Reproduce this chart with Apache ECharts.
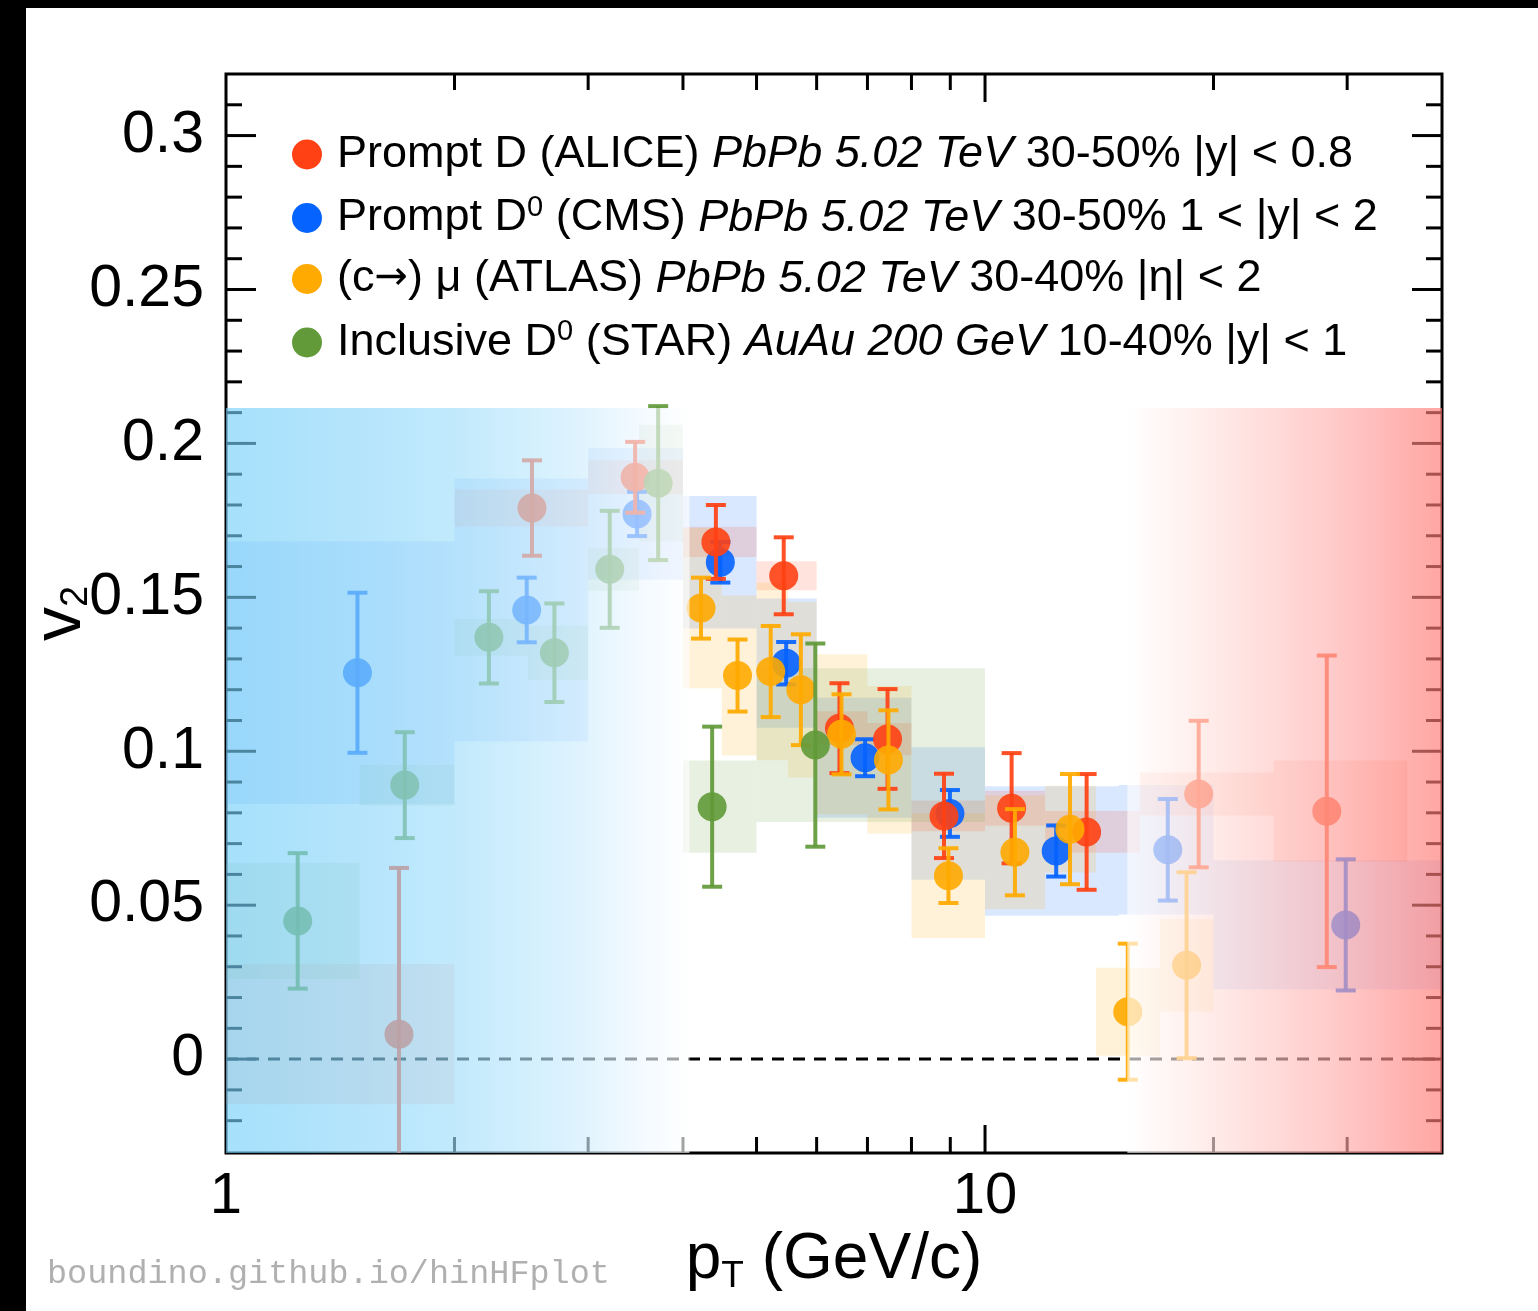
<!DOCTYPE html>
<html>
<head>
<meta charset="utf-8">
<script src="https://cdn.jsdelivr.net/npm/echarts@6/dist/echarts.min.js"></script>
<style>
  body { margin: 0; background: #000; }
  #panel { position: absolute; left: 26px; top: 8px; right: 0; bottom: 0; background: #fff; }
  #main { position: absolute; left: 0; top: 0; width: 1538px; height: 1311px; }
</style>
</head>
<body>
<div id="panel"></div>
<div id="main"></div>
<script>
var FONT = "'Liberation Sans', Arial, Helvetica, sans-serif";

// axis range
var xMin = 1, xMax = 40, yMin = -0.0305, yMax = 0.32;

// tick marks
var xMajorTicks = [10];
var xMinorTicks = [2, 3, 4, 5, 6, 7, 8, 9, 20, 30];
var yMajorTicks = [0, 0.05, 0.1, 0.15, 0.2, 0.25, 0.3];
var yMinorTicks = [-0.02, -0.01, 0.01, 0.02, 0.03, 0.04, 0.06, 0.07, 0.08, 0.09,
  0.11, 0.12, 0.13, 0.14, 0.16, 0.17, 0.18, 0.19, 0.21, 0.22, 0.23, 0.24,
  0.26, 0.27, 0.28, 0.29, 0.31];

// Prompt D (ALICE) PbPb 5.02 TeV 30-50%
var aliceX    = [1.69, 2.53, 3.46, 4.42, 5.43, 6.43, 7.44, 8.83, 10.84, 13.61, 19.12, 28.2];
var aliceV2   = [0.0081, 0.179, 0.189, 0.168, 0.157, 0.1075, 0.104, 0.079, 0.0815, 0.0738, 0.0861, 0.0805];
var aliceStat = [0.054, 0.0155, 0.0115, 0.012, 0.0125, 0.0146, 0.0162, 0.0137, 0.0179, 0.0188, 0.0238, 0.0506];
var aliceLo   = [1, 2, 3, 4, 5, 6, 7, 8, 10, 12, 16, 24];
var aliceHi   = [2, 3, 4, 5, 6, 7, 8, 10, 12, 16, 24, 36];
var aliceSys  = [0.0228, 0.006, 0.0055, 0.0049, 0.0047, 0.0055, 0.0052, 0.005, 0.0057, 0.0068, 0.007, 0.0165];

// Prompt D0 (CMS) PbPb 5.02 TeV 30-50%
var cmsX    = [1.49, 2.49, 3.48, 4.48, 5.47, 6.95, 8.99, 12.41, 17.41, 29.87];
var cmsV2   = [0.1255, 0.1459, 0.1771, 0.1614, 0.1286, 0.0979, 0.0798, 0.0676, 0.068, 0.0436];
var cmsStat = [0.026, 0.0105, 0.0072, 0.0066, 0.0069, 0.006, 0.0076, 0.0083, 0.0165, 0.0213];
var cmsLo   = [1, 2, 3, 4, 5, 6, 8, 10, 15, 20];
var cmsHi   = [2, 3, 4, 5, 6, 8, 10, 15, 20, 40];
var cmsSys  = [0.0426, 0.0427, 0.0214, 0.0215, 0.021, 0.0195, 0.0215, 0.021, 0.021, 0.021];

// (c->) mu (ATLAS) PbPb 5.02 TeV 30-40%
var atlasX    = [4.225, 4.72, 5.22, 5.72, 6.47, 7.46, 8.95, 10.95, 12.94, 15.42, 18.43];
var atlasV2   = [0.1465, 0.1246, 0.1259, 0.12, 0.1055, 0.0972, 0.0596, 0.0672, 0.0747, 0.0154, 0.0305];
var atlasStat = [0.0099, 0.0117, 0.0148, 0.018, 0.013, 0.0161, 0.0089, 0.014, 0.0179, 0.0221, 0.0302];
var atlasLo   = [4, 4.5, 5, 5.5, 6, 7, 8, 10, 12, 14, 17];
var atlasHi   = [4.5, 5, 5.5, 6, 7, 8, 10, 12, 14, 17, 20];
var atlasSys  = [0.026, 0.026, 0.0288, 0.0285, 0.026, 0.024, 0.0203, 0.0185, 0.0141, 0.0143, 0.015];

// Inclusive D0 (STAR) AuAu 200 GeV 10-40%
var starX    = [1.243, 1.72, 2.22, 2.708, 3.203, 3.71, 4.37, 5.976];
var starV2   = [0.0449, 0.089, 0.137, 0.132, 0.1591, 0.1871, 0.082, 0.102];
var starStat = [0.022, 0.0172, 0.015, 0.016, 0.019, 0.025, 0.026, 0.033];
var starLo   = [1, 1.5, 2, 2.5, 3, 3.5, 4, 5];
var starHi   = [1.5, 2, 2.5, 3, 3.5, 4, 5, 10];
var starSys  = [0.0189, 0.0066, 0.006, 0.0088, 0.007, 0.019, 0.015, 0.025];

// shaded pT bands (low pT blue, high pT red)
var bandLo = [1, 15.4];
var bandHi = [4.08, 40];
var bandTop = 0.2115;

var experiments = [
  { name: 'CMS',   color: '#0563ff', x: cmsX,   v: cmsV2,   s: cmsStat,   lo: cmsLo,   hi: cmsHi,   sys: cmsSys },
  { name: 'ALICE', color: '#ff4114', x: aliceX, v: aliceV2, s: aliceStat, lo: aliceLo, hi: aliceHi, sys: aliceSys },
  { name: 'ATLAS', color: '#ffaa00', x: atlasX, v: atlasV2, s: atlasStat, lo: atlasLo, hi: atlasHi, sys: atlasSys },
  { name: 'STAR',  color: '#629a3a', x: starX,  v: starV2,  s: starStat,  lo: starLo,  hi: starHi,  sys: starSys }
];

var legendText = {
  ALICE: '{f|Prompt D (ALICE) }{i|PbPb 5.02 TeV}{n| 30-50% |y| < 0.8}',
  CMS:   '{f|Prompt D}{s|0}{n| (CMS) }{i|PbPb 5.02 TeV}{n| 30-50% 1 < |y| < 2}',
  ATLAS: '{f|(c}{a|→}{n|) μ (ATLAS) }{i|PbPb 5.02 TeV}{n| 30-40% |η| < 2}',
  STAR:  '{f|Inclusive D}{s|0}{n| (STAR) }{i|AuAu 200 GeV}{n| 10-40% |y| < 1}'
};

function clampY(v) { return Math.max(yMin, Math.min(yMax, v)); }

function renderBox(params, api) {
  var a = api.coord([api.value(0), clampY(api.value(2) + api.value(3))]);
  var b = api.coord([api.value(1), clampY(api.value(2) - api.value(3))]);
  return {
    type: 'rect',
    shape: { x: a[0], y: a[1], width: b[0] - a[0], height: b[1] - a[1] },
    style: { fill: api.visual('color'), opacity: 0.15 }
  };
}

function renderPoint(params, api) {
  var x = api.value(0), y = api.value(1), e = api.value(2);
  var c = api.coord([x, y]);
  var t = api.coord([x, clampY(y + e)]);
  var b = api.coord([x, clampY(y - e)]);
  var col = api.visual('color');
  var ls = { stroke: col, lineWidth: 4, opacity: 0.92 };
  var kids = [
    { type: 'line', shape: { x1: c[0], y1: t[1], x2: c[0], y2: b[1] }, style: ls }
  ];
  if (y + e < yMax) kids.push({ type: 'line', shape: { x1: c[0] - 10, y1: t[1], x2: c[0] + 10, y2: t[1] }, style: ls });
  if (y - e > yMin) kids.push({ type: 'line', shape: { x1: c[0] - 10, y1: b[1], x2: c[0] + 10, y2: b[1] }, style: ls });
  kids.push({ type: 'circle', shape: { cx: c[0], cy: c[1], r: 14.5 }, style: { fill: col, opacity: 0.9 } });
  return { type: 'group', children: kids };
}

function renderXTick(params, api) {
  var v = api.value(0), len = api.value(2);
  var b = api.coord([v, yMin]), t = api.coord([v, yMax]);
  var st = { stroke: '#000', lineWidth: 3 };
  return { type: 'group', children: [
    { type: 'line', shape: { x1: b[0], y1: b[1], x2: b[0], y2: b[1] - len }, style: st },
    { type: 'line', shape: { x1: t[0], y1: t[1], x2: t[0], y2: t[1] + len }, style: st }
  ] };
}

function renderYTick(params, api) {
  var v = api.value(1), len = api.value(2);
  var l = api.coord([xMin, v]), r = api.coord([xMax, v]);
  var st = { stroke: '#000', lineWidth: 3 };
  return { type: 'group', children: [
    { type: 'line', shape: { x1: l[0], y1: l[1], x2: l[0] + len, y2: l[1] }, style: st },
    { type: 'line', shape: { x1: r[0], y1: r[1], x2: r[0] - len, y2: r[1] }, style: st }
  ] };
}

// translucent veil: fades from blue to white (low pT), white to red (high pT)
var blueStops = [
  { offset: 0, color: 'rgba(116,207,249,0.64)' },
  { offset: 0.3, color: 'rgba(140,214,250,0.64)' },
  { offset: 0.5, color: 'rgba(160,222,251,0.64)' },
  { offset: 0.75, color: 'rgba(202,236,253,0.64)' },
  { offset: 0.9, color: 'rgba(238,247,255,0.64)' },
  { offset: 1, color: 'rgba(255,255,255,0.64)' }
];
var redStops = [
  { offset: 0, color: 'rgba(255,255,255,0.64)' },
  { offset: 0.23, color: 'rgba(255,229,225,0.64)' },
  { offset: 0.63, color: 'rgba(255,177,176,0.64)' },
  { offset: 1, color: 'rgba(255,120,115,0.66)' }
];

function renderBand(params, api) {
  var a = api.coord([api.value(0), bandTop]);
  var b = api.coord([api.value(1), yMin]);
  return {
    type: 'rect',
    shape: { x: a[0], y: a[1], width: b[0] - a[0], height: b[1] - a[1] },
    style: { fill: { type: 'linear', x: 0, y: 0, x2: 1, y2: 0,
      colorStops: api.value(2) === 0 ? blueStops : redStops } }
  };
}

var series = [];
experiments.forEach(function (ex) {
  series.push({
    name: ex.name + ' syst', type: 'custom', z: 2, silent: true, clip: true,
    itemStyle: { color: ex.color },
    encode: { x: [0, 1], y: 2 },
    renderItem: renderBox,
    data: ex.lo.map(function (lo, i) { return [lo, ex.hi[i], ex.v[i], ex.sys[i]]; })
  });
});
series.push({
  name: 'zero', type: 'line', z: 3, silent: true, symbol: 'none',
  lineStyle: { color: '#000', width: 3, type: [12, 9] },
  data: [[xMin, 0], [xMax, 0]]
});
experiments.forEach(function (ex) {
  series.push({
    name: ex.name, type: 'custom', z: 4, silent: true, clip: true,
    itemStyle: { color: ex.color },
    encode: { x: 0, y: 1 },
    renderItem: renderPoint,
    data: ex.x.map(function (x, i) { return [x, ex.v[i], ex.s[i]]; })
  });
});
series.push({
  name: 'xticks', type: 'custom', z: 5, silent: true,
  renderItem: renderXTick, encode: { x: 0, y: 1 },
  data: xMajorTicks.map(function (v) { return [v, 0, 28]; })
    .concat(xMinorTicks.map(function (v) { return [v, 0, 16]; }))
});
series.push({
  name: 'yticks', type: 'custom', z: 5, silent: true,
  renderItem: renderYTick, encode: { x: 0, y: 1 },
  data: yMajorTicks.map(function (v) { return [xMin, v, 30]; })
    .concat(yMinorTicks.map(function (v) { return [xMin, v, 16]; }))
});
series.push({
  name: 'bands', type: 'custom', z: 10, silent: true,
  renderItem: renderBand, encode: { x: [0, 1], y: 2 },
  data: bandLo.map(function (lo, i) { return [lo, bandHi[i], i]; })
});

var myChart = echarts.init(document.getElementById('main'));
var option = {
  animation: false,
  grid: { left: 226, right: 96, top: 74, bottom: 158, outerBoundsMode: 'none',
    show: true, borderColor: '#000', borderWidth: 3, backgroundColor: 'transparent' },
  legend: {
    orient: 'vertical', left: 287, top: 127, itemWidth: 30, itemHeight: 30, itemGap: 16,
    icon: 'circle', selectedMode: false,
    data: ['ALICE', 'CMS', 'ATLAS', 'STAR'],
    formatter: function (name) { return legendText[name]; },
    textStyle: {
      color: '#000', fontFamily: FONT, fontSize: 45,
      rich: {
        f: { fontSize: 45, fontFamily: FONT, color: '#000', lineHeight: 50, padding: [0, 0, 0, 10] },
        n: { fontSize: 45, fontFamily: FONT, color: '#000', lineHeight: 50 },
        a: { fontSize: 40, fontFamily: "'DejaVu Sans', sans-serif", color: '#000', lineHeight: 50 },
        i: { fontSize: 45, fontFamily: FONT, color: '#000', lineHeight: 50, fontStyle: 'italic' },
        s: { fontSize: 29, fontFamily: FONT, color: '#000', lineHeight: 14, verticalAlign: 'top' }
      }
    }
  },
  xAxis: {
    type: 'log', logBase: 10, min: xMin, max: xMax,
    axisLine: { show: false }, axisTick: { show: false }, splitLine: { show: false },
    axisLabel: { color: '#000', fontFamily: FONT, fontSize: 58, margin: 15, showMaxLabel: false },
    name: '{p|p}{t|T}{p| (GeV/c)}', nameLocation: 'middle', nameGap: 72, nameMoveOverlap: false,
    nameTextStyle: {
      color: '#000', fontFamily: FONT, fontSize: 64,
      rich: {
        p: { fontSize: 64, fontFamily: FONT, color: '#000', lineHeight: 70 },
        t: { fontSize: 37, fontFamily: FONT, color: '#000', lineHeight: 34, verticalAlign: 'bottom' }
      }
    }
  },
  yAxis: {
    type: 'value', min: yMin, max: yMax, splitNumber: 7,
    axisLine: { show: false }, axisTick: { show: false }, splitLine: { show: false },
    axisLabel: {
      color: '#000', fontFamily: FONT, fontSize: 59, margin: 22, padding: [6, 0, 0, 0],
      showMinLabel: false, showMaxLabel: false,
      formatter: function (v) { return Math.abs(v) < 1e-9 ? '0' : String(+v.toFixed(2)); }
    },
    name: '{v|v}{s|2}', nameLocation: 'middle', nameGap: 130, nameRotate: 90, nameMoveOverlap: false,
    nameTextStyle: {
      color: '#000', fontFamily: FONT, fontSize: 68,
      rich: {
        v: { fontSize: 68, fontFamily: FONT, color: '#000', lineHeight: 70 },
        s: { fontSize: 38, fontFamily: FONT, color: '#000', lineHeight: 6, verticalAlign: 'bottom' }
      }
    }
  },
  graphic: [{
    type: 'text', left: 47, top: 1257, silent: true,
    style: { text: 'boundino.github.io/hinHFplot', fill: '#b0b0b0', font: "33.5px 'Liberation Mono', 'Courier New', monospace" }
  }],
  series: series
};
myChart.setOption(option);
</script>
</body>
</html>
